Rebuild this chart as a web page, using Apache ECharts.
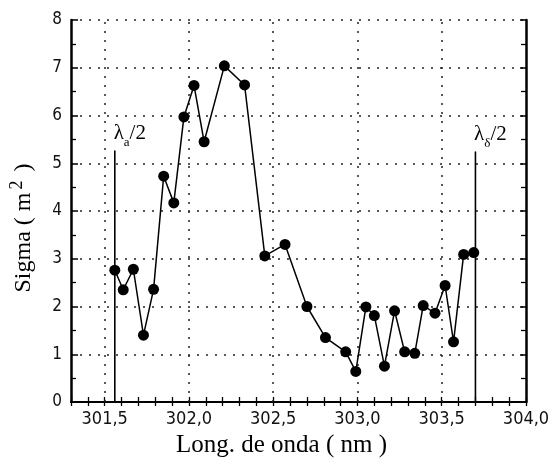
<!DOCTYPE html>
<html>
<head>
<meta charset="utf-8">
<script src="https://cdn.jsdelivr.net/npm/echarts@6/dist/echarts.min.js"></script>
<style>html,body{margin:0;padding:0;background:#fff}#c{width:549px;height:462px}</style>
</head>
<body>
<div id="c"></div>
<script>
// Data
const wavelength = [301.56, 301.61, 301.67, 301.73, 301.79, 301.85, 301.91, 301.97, 302.03, 302.09, 302.21, 302.33, 302.45, 302.57, 302.70, 302.81, 302.93, 302.99, 303.05, 303.10, 303.16, 303.22, 303.28, 303.34, 303.39, 303.46, 303.52, 303.57, 303.63, 303.69];
const sigma      = [2.76, 2.35, 2.78, 1.40, 2.36, 4.73, 4.17, 5.97, 6.63, 5.45, 7.04, 6.64, 3.06, 3.30, 2.00, 1.35, 1.05, 0.64, 1.99, 1.81, 0.75, 1.91, 1.05, 1.02, 2.02, 1.86, 2.44, 1.26, 3.09, 3.13];
const lambdaX    = [301.56, 303.70];
const lambdaTop  = [5.26, 5.24];
const lambdaSub  = ['a', 'δ'];
const gridX      = [301.5, 302.0, 302.5, 303.0, 303.5];
const xMin = 301.3, xMax = 304.0;
const yMin = 0, yMax = 8;

const chart = echarts.init(document.getElementById('c'), null, {renderer: 'canvas'});
const dotted = {color: '#222', width: 1.5, type: [2, 7]};
const tickFont = {color: '#111', fontFamily: '"DejaVu Sans Condensed", "DejaVu Sans", sans-serif', fontSize: 18};
const serif = '"Liberation Serif", "DejaVu Serif", serif';

const isHalf = v => Math.abs(v * 2 - Math.round(v * 2)) < 1e-6;

const lambdaSeries = lambdaX.map((x, i) => ({
  type: 'line',
  data: [[x, 0], [x, lambdaTop[i]]],
  symbol: 'none',
  lineStyle: {color: '#000', width: 1.6},
  silent: true,
  z: 3
}));

const lambdaLabels = {
  type: 'scatter',
  symbolSize: 1,
  itemStyle: {color: '#000', opacity: 1},
  data: lambdaX.map((x, i) => [x, lambdaTop[i]]),
  label: {
    show: true,
    position: 'top',
    offset: [15, -1],
    color: '#000',
    opacity: 1,
    formatter: p => '{l|λ}{s|' + lambdaSub[p.dataIndex] + '}{l|/2}',
    rich: {
      l: {fontFamily: serif, fontSize: 21, color: '#000', lineHeight: 24, verticalAlign: 'bottom'},
      s: {fontFamily: serif, fontSize: 13, color: '#000', lineHeight: 14, verticalAlign: 'bottom', padding: [0, 0, -5, 0]}
    }
  },
  silent: true,
  z: 6
};

chart.setOption({
  animation: false,
  grid: {left: 71, right: 23, top: 20, bottom: 60, containLabel: false, outerBoundsMode: 'none'},
  xAxis: [{
    type: 'value', min: xMin, max: xMax, interval: 0.1,
    name: 'Long. de onda ( nm )', nameLocation: 'middle', nameGap: 29,
    nameTextStyle: {fontFamily: serif, fontSize: 25, color: '#000', padding: [0, 34, 0, 0]},
    axisLine: {show: true, lineStyle: {color: '#000', width: 2}},
    axisTick: {show: true, inside: true, length: 5, lineStyle: {color: '#000', width: 1.3}},
    axisLabel: Object.assign({margin: 8, showMinLabel: true, showMaxLabel: true,
      formatter: v => isHalf(v) ? v.toFixed(1).replace('.', ',') : ''}, tickFont),
    splitLine: {show: false}
  }, {
    type: 'value', position: 'top', min: xMin, max: xMax, interval: 0.1,
    axisLine: {show: true, lineStyle: {color: '#000', width: 2}},
    axisTick: {show: true, inside: true, length: 4, lineStyle: {color: '#000', width: 1.3}},
    axisLabel: {show: false}, splitLine: {show: false}
  }],
  yAxis: [{
    type: 'value', min: yMin, max: yMax, interval: 1,
    name: 'Sigma ( m{sup|2} )', nameLocation: 'middle', nameGap: 32, nameRotate: 90,
    nameTextStyle: {fontFamily: serif, fontSize: 24, color: '#000', padding: [0, 34, 0, 0],
      rich: {sup: {fontFamily: serif, fontSize: 18, color: '#000', padding: [0, 3, 13, 3]}}},
    axisLine: {show: true, lineStyle: {color: '#000', width: 2.5}},
    axisTick: {show: true, inside: true, length: 7, lineStyle: {color: '#000', width: 1.5}},
    minorTick: {show: true, splitNumber: 2, length: 5, lineStyle: {color: '#000', width: 1.3}},
    axisLabel: Object.assign({margin: 9}, tickFont, {fontSize: 17}),
    splitLine: {show: true, lineStyle: dotted}
  }, {
    type: 'value', position: 'right', min: yMin, max: yMax, interval: 1,
    axisLine: {show: true, lineStyle: {color: '#000', width: 2.5}},
    axisTick: {show: true, inside: true, length: 6, lineStyle: {color: '#000', width: 1.5}},
    minorTick: {show: true, splitNumber: 2, length: 5, lineStyle: {color: '#000', width: 1.3}},
    axisLabel: {show: false}, splitLine: {show: false}
  }],
  series: [{
    type: 'line',
    data: wavelength.map((x, i) => [x, sigma[i]]),
    symbol: 'circle', symbolSize: 11,
    itemStyle: {color: '#000'},
    lineStyle: {color: '#000', width: 1.5},
    z: 5,
    markLine: {
      silent: true, symbol: 'none', label: {show: false},
      lineStyle: dotted,
      data: gridX.map(v => ({xAxis: v}))
    }
  }, ...lambdaSeries, lambdaLabels]
});
</script>
</body>
</html>
